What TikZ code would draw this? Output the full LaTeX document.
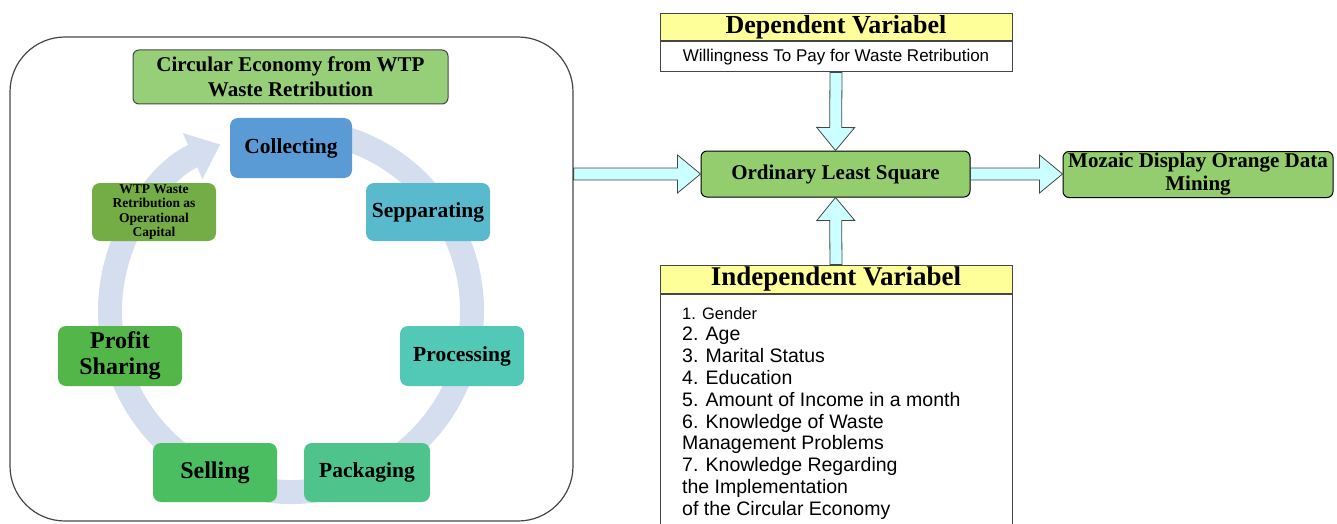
\documentclass[tikz,border=0pt]{standalone}
\usepackage{fontspec}
\setmainfont{Liberation Serif}
\newfontfamily\arialfont{Liberation Sans}
\usetikzlibrary{calc,arrows.meta}

\definecolor{ringblue}{RGB}{212,222,238}
\definecolor{collectcol}{RGB}{91,155,213}
\definecolor{sepcol}{RGB}{90,186,205}
\definecolor{proccol}{RGB}{82,200,182}
\definecolor{packcol}{RGB}{78,196,140}
\definecolor{sellcol}{RGB}{74,190,97}
\definecolor{profitcol}{RGB}{82,183,72}
\definecolor{wtpcol}{RGB}{116,172,70}
\definecolor{titlegreen}{RGB}{151,207,120}
\definecolor{olsgreen}{RGB}{147,205,110}
\definecolor{headyellow}{RGB}{255,255,153}
\definecolor{arrowcyan}{RGB}{204,255,255}
\definecolor{edgegray}{RGB}{70,70,70}

% block arrow from #1 to #2 (tip at #2)
\newcommand{\blockarrow}[2]{
\draw[blockarr] let \p1=(#1), \p2=(#2), \n1={atan2(\y2-\y1,\x2-\x1)} in
  ($(\p1)+(\n1+90:6pt)$) -- ($(\p2)+(\n1+180:23pt)+(\n1+90:6pt)$)
  -- ($(\p2)+(\n1+180:23pt)+(\n1+90:19pt)$) -- (\p2)
  -- ($(\p2)+(\n1+180:23pt)+(\n1-90:19pt)$) -- ($(\p2)+(\n1+180:23pt)+(\n1-90:6pt)$)
  -- ($(\p1)+(\n1-90:6pt)$) -- cycle;
}

\begin{document}
\begin{tikzpicture}[x=1pt,y=-1pt,
  cyclestep/.style={rounded corners=8pt, minimum width=124pt, minimum height=59pt,
    inner sep=1pt, align=center, font=\bfseries\fontsize{21.5}{24}\selectfont},
  titlebox/.style={draw=edgegray, line width=1pt, rounded corners=6pt, fill=titlegreen,
    minimum width=315pt, minimum height=54pt, inner sep=1pt, align=center,
    font=\bfseries\fontsize{21}{25}\selectfont},
  olsbox/.style={draw=black, line width=1pt, rounded corners=6pt, fill=olsgreen,
    minimum width=269pt, minimum height=46pt, inner sep=1pt, align=center,
    font=\bfseries\fontsize{21}{23}\selectfont},
  varhead/.style={draw=edgegray, line width=1pt, fill=headyellow, minimum width=352pt,
    inner sep=0pt, font=\bfseries\fontsize{26}{28}\selectfont},
  varbody/.style={draw=edgegray, line width=1pt, fill=white, minimum width=352pt, inner sep=0pt},
  listtext/.style={align=left, inner sep=0pt, font=\arialfont\fontsize{19.5}{21.8}\selectfont},
  blockarr/.style={draw=edgegray, line width=0.8pt, fill=arrowcyan}]
\useasboundingbox (0,0) rectangle (1337,524);

% circular part
\node[draw=edgegray, line width=1.2pt, rounded corners=55pt, minimum width=563pt,
  minimum height=484pt] (cyclebox) at (291.5,279) {};
\draw[ringblue, line width=24pt, -{Triangle[length=30pt,width=48pt]}]
  (291,311) ++(-80:181) arc[start angle=-80, end angle=247, radius=181];
\node[titlebox] (title) at (290.5,77) {Circular Economy from WTP\\Waste Retribution};
\node[cyclestep, fill=collectcol, minimum width=122pt, minimum height=60pt] (collect) at (291,148) {Collecting};
\node[cyclestep, fill=sepcol, minimum height=58pt] (sep) at (428,212) {Sepparating};
\node[cyclestep, fill=proccol, minimum height=60pt] (proc) at (462,356) {Processing};
\node[cyclestep, fill=packcol, minimum width=126pt] (pack) at (367,472.5) {Packaging};
\node[cyclestep, fill=sellcol, font=\bfseries\fontsize{24}{26}\selectfont] (sell) at (215,472.5) {Selling};
\node[cyclestep, fill=profitcol, minimum height=60pt, font=\bfseries\fontsize{24}{26}\selectfont] (profit) at (120,356) {Profit\\Sharing};
\node[cyclestep, fill=wtpcol, minimum height=58pt, inner sep=0pt, font=\bfseries\fontsize{13.5}{14.3}\selectfont] (wtp) at (154,212)
  {WTP Waste\\Retribution as\\Operational\\Capital};

% variables
\node[varhead, minimum height=27pt] (dephead) at (836,27.5) {Dependent Variabel};
\node[varbody, minimum height=30pt, anchor=north, font=\arialfont\fontsize{17}{19}\selectfont] (depbody) at (dephead.south)
  {Willingness To Pay for Waste Retribution};
\node[olsbox] (ols) at (835.5,174) {Ordinary Least Square};
\node[olsbox, minimum width=270pt, anchor=north] (moz) at (1198,151) {Mozaic Display Orange Data\\Mining};
\node[varhead, minimum height=28pt, font=\bfseries\fontsize{27}{28}\selectfont] (indhead) at (836,279) {Independent Variabel};
\node[varbody, minimum height=300pt, anchor=north] (indbody) at (indhead.south) {};
\node[listtext, anchor=north west] (indlist) at (682,307)
  {{\fontsize{16.5}{21.8}\selectfont 1. Gender}\\
   2. Age\\
   3. Marital Status\\
   4. Education\\
   5. Amount of Income in a month\\
   6. Knowledge of Waste\\
   Management Problems\\
   7. Knowledge Regarding\\
   the Implementation\\
   of the Circular Economy};

% arrows
\blockarrow{cyclebox.east |- ols.west}{ols.west}
\blockarrow{ols.east}{moz.west |- ols.east}
\blockarrow{depbody.south}{ols.north}
\blockarrow{indhead.north}{ols.south}
\end{tikzpicture}
\end{document}
